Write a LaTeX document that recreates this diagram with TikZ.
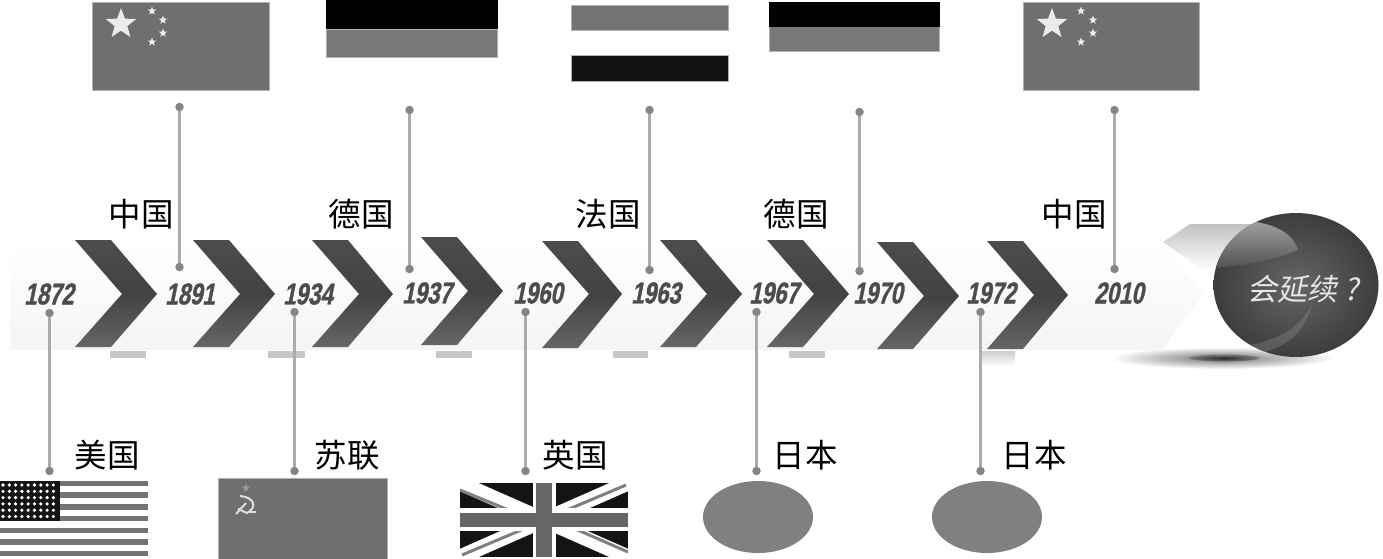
\documentclass[tikz,border=0pt]{standalone}
\usepackage{fontspec}
\usetikzlibrary{positioning,shapes,arrows}
\newfontfamily\cjkfont{Noto Sans CJK SC}
\newfontfamily\cjkslant[FakeSlant=0.2]{Noto Sans CJK SC}
\newfontfamily\yearfont[FakeStretch=0.74,FakeSlant=0.2,FakeBold=1.2]{Liberation Sans Bold}
\definecolor{flaggrey}{HTML}{6F6F6F}
\definecolor{stemgrey}{HTML}{ABABAB}
\definecolor{dotgrey}{HTML}{858585}
\begin{document}
\begin{tikzpicture}[
  x=1pt,y=-1pt,
  mychevron/.style={top color=black!70,bottom color=black!60,middle color=black!74},
  mylabel/.style={font=\cjkfont\fontsize{32.5}{32.5}\selectfont,inner sep=0pt},
  myyear/.style={font=\yearfont\fontsize{30}{30}\selectfont,text=black!70,inner sep=0pt},
  mydot/.style={circle,fill=dotgrey,minimum size=8.5pt,inner sep=0pt},
  myflag/.style={rectangle,inner sep=0pt,draw=black!30,line width=1pt,fill=flaggrey},
  mystar/.style={star,star points=5,star point ratio=2.4,fill=black!8,inner sep=0pt},
  mytick/.style={fill=black!22},
  mystem/.style={draw=stemgrey,line width=2.5pt}
]
\useasboundingbox (0,0) rectangle (1383,558);
% shadow and band
\shade[outer color=white,inner color=black!55] (1222,358) ellipse (112 and 11);
\shade[outer color=black!55,inner color=black!90,opacity=0.8] (1224,358) ellipse (35 and 3.5);
\shade[top color=white,middle color=white,bottom color=black!4] (10,240) -- (1162,240) -- (1203,294) -- (1162,350) -- (10,350) -- cycle;
\shade[top color=black!24,bottom color=white] (1163,242) -- (1190,224) -- (1290,224) -- (1290,270) -- (1203,270) -- cycle;
% ticks
\fill[mytick] (110,351) rectangle (146,358);
\fill[mytick] (268,351) rectangle (305,358);
\fill[mytick] (436,351) rectangle (472,358);
\fill[mytick] (613,351) rectangle (648,358);
\fill[mytick] (789,351) rectangle (825,358);
\shade[top color=black!20,bottom color=white] (980,351) rectangle (1015,366);
% chevrons
\shade[mychevron] (75,240) -- ++(36,0) -- ++(46,54) -- ++(-46,53) -- ++(-36,0) -- ++(47,-53) -- cycle;
\shade[mychevron] (193,240) -- ++(36,0) -- ++(46,54) -- ++(-46,53) -- ++(-36,0) -- ++(47,-53) -- cycle;
\shade[mychevron] (312,240) -- ++(36,0) -- ++(45,54) -- ++(-45,53) -- ++(-36,0) -- ++(47,-53) -- cycle;
\shade[mychevron] (421,237) -- ++(36,0) -- ++(46,54) -- ++(-46,54) -- ++(-36,0) -- ++(47,-54) -- cycle;
\shade[mychevron] (542,241) -- ++(36,0) -- ++(44,53) -- ++(-44,54) -- ++(-36,0) -- ++(47,-54) -- cycle;
\shade[mychevron] (660,240) -- ++(36,0) -- ++(46,54) -- ++(-46,53) -- ++(-36,0) -- ++(47,-53) -- cycle;
\shade[mychevron] (767,240) -- ++(36,0) -- ++(46,54) -- ++(-46,53) -- ++(-36,0) -- ++(47,-53) -- cycle;
\shade[mychevron] (877,242) -- ++(36,0) -- ++(46,54) -- ++(-46,53) -- ++(-36,0) -- ++(47,-53) -- cycle;
\shade[mychevron] (987,241) -- ++(36,0) -- ++(45,54) -- ++(-45,54) -- ++(-36,0) -- ++(47,-54) -- cycle;
% end ball
\shade[inner color=black!60,outer color=black!76] (1296,285) ellipse (82.5 and 72);
\begin{scope}
\clip (1296,285) ellipse (82.5 and 72);
\shade[top color=black!38,bottom color=black!68] (1210,222) -- (1256,222) .. controls (1280,226) and (1294,236) .. (1298,250) .. controls (1270,262) and (1240,266) .. (1210,268) -- cycle;
\fill[black!40,opacity=0.3] (1250,345) .. controls (1285,338) and (1300,325) .. (1312,305) .. controls (1305,330) and (1290,345) .. (1265,352) -- cycle;
\end{scope}
\node[font=\cjkslant\fontsize{30}{30}\selectfont,text=black!10,inner sep=0pt] (ball) at (1303,289) {会延续 ?};
% years
\node[myyear] (y1872) at (49,294) {1872};
\node[myyear] (y1891) at (190,294) {1891};
\node[myyear] (y1934) at (308,294) {1934};
\node[myyear] (y1937) at (427,293) {1937};
\node[myyear] (y1960) at (538,293) {1960};
\node[myyear] (y1963) at (656,293) {1963};
\node[myyear] (y1967) at (774,293) {1967};
\node[myyear] (y1970) at (878,293) {1970};
\node[myyear] (y1972) at (991,293) {1972};
\node[myyear] (y2010) at (1119,293) {2010};
% labels
\node[mylabel] (lCN1) at (141,214) {中国};
\node[mylabel] (lDE1) at (361,214) {德国};
\node[mylabel] (lFR) at (608,214) {法国};
\node[mylabel] (lDE2) at (796,214) {德国};
\node[mylabel] (lCN2) at (1074,214) {中国};
\node[mylabel] (lUS) at (107,455) {美国};
\node[mylabel] (lSU) at (347,455) {苏联};
\node[mylabel] (lUK) at (575,455) {英国};
\node[mylabel] (lJP1) at (805,455) {日本};
\node[mylabel] (lJP2) at (1034,455) {日本};
% dots
\node[mydot] (a1891) at (179.5,267) {};
\node[mydot] (b1891) at (179.5,107) {};
\node[mydot] (a1937) at (409.5,269) {};
\node[mydot] (b1937) at (409.5,110) {};
\node[mydot] (a1963) at (649.5,270) {};
\node[mydot] (b1963) at (649.5,110) {};
\node[mydot] (a1970) at (859.5,271) {};
\node[mydot] (b1970) at (859.5,112) {};
\node[mydot] (a2010) at (1114.5,269) {};
\node[mydot] (b2010) at (1114.5,110) {};
\node[mydot] (a1872) at (49.5,313) {};
\node[mydot] (b1872) at (49.5,471) {};
\node[mydot] (a1934) at (294.5,312) {};
\node[mydot] (b1934) at (294.5,471) {};
\node[mydot] (a1960) at (525.5,312) {};
\node[mydot] (b1960) at (525.5,471) {};
\node[mydot] (a1967) at (756.5,312) {};
\node[mydot] (b1967) at (756.5,471) {};
\node[mydot] (a1972) at (980.5,312) {};
\node[mydot] (b1972) at (980.5,471) {};
\path[mystem] (a1891) -- (b1891)
(a1937) -- (b1937)
(a1963) -- (b1963)
(a1970) -- (b1970)
(a2010) -- (b2010)
(a1872) -- (b1872)
(a1934) -- (b1934)
(a1960) -- (b1960)
(a1967) -- (b1967)
(a1972) -- (b1972);
% top flags
\node[myflag,minimum width=177pt,minimum height=88pt] (fCN1) at (181,46) {};
\node[mystar,minimum size=32pt] (s0) at (121,24) {};
\node[mystar,minimum size=9pt] (s1) at (152,11) {};
\node[mystar,minimum size=9pt] (s2) at (163,20) {};
\node[mystar,minimum size=9pt] (s3) at (163,33) {};
\node[mystar,minimum size=9pt] (s4) at (152,42) {};
\node[myflag,minimum width=171pt,minimum height=28pt,fill=black!53] (fDE1b) at (412,43) {};
\node[rectangle,inner sep=0pt,fill=black,minimum width=172pt,minimum height=29pt] (fDE1a) at (412,14) {};
\node[myflag,minimum width=157pt,minimum height=25pt,fill=black!55] (fFR1) at (650,18) {};
\node[myflag,minimum width=157pt,minimum height=26pt,fill=black!93] (fFR3) at (650,68) {};
\node[myflag,minimum width=170pt,minimum height=25pt,fill=black!53] (fDE2b) at (854.5,39) {};
\node[rectangle,inner sep=0pt,fill=black,minimum width=171pt,minimum height=25pt] (fDE2a) at (854.5,14) {};
\node[myflag,minimum width=176pt,minimum height=88pt] (fCN2) at (1111,46) {};
\node[mystar,minimum size=32pt] (t0) at (1052,24) {};
\node[mystar,minimum size=9pt] (t1) at (1081,11) {};
\node[mystar,minimum size=9pt] (t2) at (1093,20) {};
\node[mystar,minimum size=9pt] (t3) at (1093,33) {};
\node[mystar,minimum size=9pt] (t4) at (1081,42) {};
% US flag
\fill[black!55] (0,481) rectangle (148,486);
\fill[black!55] (0,492) rectangle (148,498);
\fill[black!55] (0,504) rectangle (148,510);
\fill[black!55] (0,516) rectangle (148,521);
\fill[black!55] (0,528) rectangle (148,533);
\fill[black!55] (0,539) rectangle (148,545);
\fill[black!55] (0,551) rectangle (148,556);
\fill[black!92] (0,481) rectangle (60,521);
\foreach \i in {0,1,...,8}
  \foreach \j in {0,1,...,5}
    \fill[white] (3+6.3*\i,485+6.3*\j) circle (1.8);
% USSR flag
\node[myflag,minimum width=169pt,minimum height=82pt] (fSU) at (302.5,519) {};
\node[mystar,minimum size=9pt,fill=black!40] (fSUstar) at (246,488) {};
\draw[black!12,line width=2pt] (240,496) .. controls (254,497) and (258,507) .. (247,513) -- (238,509);
\draw[black!12,line width=2pt] (236,514) -- (246,503);
\draw[black!12,line width=1.5pt] (250,512) -- (256,512);
% UK flag
\node[rectangle,inner sep=0pt,fill=black!92,minimum width=168pt,minimum height=74pt] (fUK) at (544,520) {};
\begin{scope}
\clip (460,483) rectangle (628,557);
\draw[white,line width=15pt] (460,483) -- (628,557);
\draw[white,line width=15pt] (460,557) -- (628,483);
\draw[black!50,line width=3pt] (460,490) -- (533,520);
\draw[black!50,line width=3pt] (555,520) -- (628,552);
\draw[black!50,line width=3pt] (462,555) -- (533,525);
\draw[black!50,line width=3pt] (555,515) -- (626,485);
\fill[white] (533,483) rectangle (556,557);
\fill[white] (460,508) rectangle (628,531);
\fill[black!60] (536,483) rectangle (552,557);
\fill[black!60] (460,513) rectangle (628,527);
\end{scope}
% japan
\node[ellipse,fill=black!50,minimum width=110pt,minimum height=72pt,inner sep=0pt] (fJP1) at (758,517) {};
\node[ellipse,fill=black!50,minimum width=110pt,minimum height=72pt,inner sep=0pt] (fJP2) at (987,517) {};
\end{tikzpicture}
\end{document}
